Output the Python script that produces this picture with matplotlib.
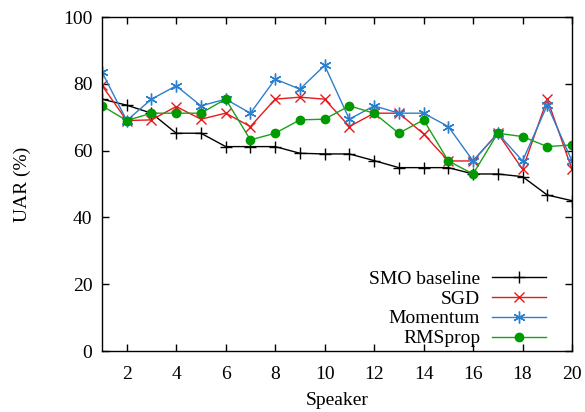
import matplotlib
matplotlib.use("Agg")
import matplotlib.pyplot as plt
from matplotlib.ticker import MultipleLocator

speakers = list(range(1, 21))
smo = [75.4, 73.6, 71.2, 65.2, 65.2, 61.2, 61.2, 61.2, 59.2, 59.0,
       59.0, 57.0, 54.9, 54.9, 54.9, 53.0, 53.0, 52.2, 46.7, 45.0]
sgd = [79.5, 69.0, 69.2, 73.2, 69.4, 71.2, 67.2, 75.4, 76.0, 75.4,
       67.2, 71.2, 71.2, 65.0, 56.9, 56.9, 65.2, 54.4, 75.4, 54.4]
momentum = [83.5, 69.0, 75.4, 79.4, 73.4, 75.4, 71.2, 81.4, 78.4, 85.5,
            69.4, 73.4, 71.2, 71.2, 67.2, 56.9, 65.2, 56.9, 73.6, 56.9]
rmsprop = [73.4, 69.0, 71.2, 71.2, 71.2, 75.4, 63.2, 65.2, 69.2, 69.4,
           73.4, 71.2, 65.2, 69.2, 56.9, 53.0, 65.2, 64.2, 61.2, 61.7]
labels = ["SMO baseline", "SGD", "Momentum", "RMSprop"]

plt.rcParams['font.family'] = ['Liberation Serif', 'DejaVu Serif']
plt.rcParams['font.size'] = 14

fig = plt.figure(figsize=(5.85, 4.12), dpi=100)
ax = fig.add_axes([102/585, 1-351/412, 470/585, 334/412])

ax.plot(speakers, smo, color='black', lw=1, marker='+', ms=8, mew=1, label=labels[0])
ax.plot(speakers, sgd, color='#e41a1c', lw=1, marker='x', ms=7, mew=1, label=labels[1])
ax.plot(speakers, momentum, color='#2b7fcc', lw=1, marker=(6, 2, 0), ms=8.5, mew=1, label=labels[2])
ax.plot(speakers, rmsprop, color='#1aa01a', lw=1, marker='o', ms=6, mec='#009900', mfc='#009900', label=labels[3])

ax.set_xlim(1, 20)
ax.set_ylim(0, 100)
ax.xaxis.set_major_locator(MultipleLocator(2))
ax.yaxis.set_major_locator(MultipleLocator(20))
ax.tick_params(direction='in', top=True, right=True, length=5, width=1, labelsize=14)
ax.tick_params(axis='x', pad=11)
ax.tick_params(axis='y', pad=7)
for s in ax.spines.values():
    s.set_linewidth(1)
ax.set_xlabel("Speaker", fontsize=14, labelpad=6)
ax.set_ylabel("UAR (%)", fontsize=14, labelpad=23)

leg = ax.legend(loc='lower right', frameon=False, markerfirst=False, fontsize=14,
                handlelength=2.8, handletextpad=0.6, labelspacing=0.12,
                borderaxespad=0.3, bbox_to_anchor=(0.974, -0.03))

fig.savefig("out.png", dpi=100)
